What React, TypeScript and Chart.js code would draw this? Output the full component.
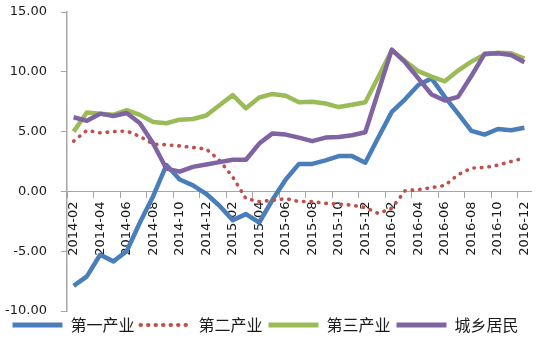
import React, { useEffect, useRef } from 'react';
import { Chart, registerables } from 'chart.js';

Chart.register(...registerables);

const months = [
  '2014-02', '2014-03', '2014-04', '2014-05', '2014-06', '2014-07', '2014-08', '2014-09', '2014-10', '2014-11', '2014-12',
  '2015-01', '2015-02', '2015-03', '2015-04', '2015-05', '2015-06', '2015-07', '2015-08', '2015-09', '2015-10', '2015-11', '2015-12',
  '2016-01', '2016-02', '2016-03', '2016-04', '2016-05', '2016-06', '2016-07', '2016-08', '2016-09', '2016-10', '2016-11', '2016-12',
];

const primaryIndustry = [
  -7.9, -7.1, -5.3, -5.85, -5.0, -2.6, -0.4, 2.2, 1.0, 0.5, -0.2,
  -1.2, -2.4, -1.9, -2.6, -0.7, 1.0, 2.3, 2.3, 2.6, 2.95, 2.95, 2.4,
  4.55, 6.65, 7.7, 8.9, 9.45, 7.9, 6.5, 5.06, 4.75, 5.22, 5.12, 5.32,
];

const secondaryIndustry = [
  4.2, 5.1, 4.9, 5.0, 5.05, 4.6, 3.95, 3.9, 3.8, 3.67, 3.55,
  2.6, 1.2, -0.6, -0.85, -0.75, -0.6, -0.85, -0.85, -1.0, -1.07, -1.15, -1.35,
  -1.85, -1.4, 0.05, 0.15, 0.32, 0.5, 1.4, 1.95, 2.0, 2.2, 2.5, 2.8,
];

const tertiaryIndustry = [
  5.0, 6.6, 6.5, 6.4, 6.8, 6.4, 5.8, 5.7, 6.0, 6.05, 6.35,
  7.2, 8.05, 6.95, 7.85, 8.15, 8.0, 7.45, 7.5, 7.35, 7.05, 7.25, 7.45,
  9.6, 11.8, 10.9, 10.05, 9.6, 9.2, 10.1, 10.85, 11.45, 11.6, 11.55, 11.1,
];

const residents = [
  6.2, 5.9, 6.5, 6.3, 6.55, 5.7, 4.0, 1.9, 1.65, 2.05, 2.25,
  2.45, 2.65, 2.65, 4.0, 4.85, 4.75, 4.5, 4.2, 4.5, 4.55, 4.7, 4.95,
  8.4, 11.85, 10.8, 9.45, 8.1, 7.6, 7.9, 9.65, 11.5, 11.55, 11.4, 10.8,
];

const seriesNames = ['第一产业', '第二产业', '第三产业', '城乡居民'];
const seriesColors = ['#4A7EBB', '#C0504D', '#9BBB59', '#8064A2'];
const yMin = -10;
const yMax = 15;
const yStep = 5;

const AXIS_COLOR = '#a6a6a6';
const TEXT_COLOR = '#1a1a1a';

export default function App() {
  const canvasRef = useRef<HTMLCanvasElement | null>(null);

  useEffect(() => {
    document.body.style.margin = '0';
    const canvas = canvasRef.current;
    if (!canvas) return;
    const seriesData = [primaryIndustry, secondaryIndustry, tertiaryIndustry, residents];
    const chart = new Chart(canvas, {
      type: 'line',
      data: {
        labels: months,
        datasets: seriesData.map((d, i) => ({
          label: seriesNames[i],
          data: d,
          borderColor: seriesColors[i],
          backgroundColor: seriesColors[i],
          borderWidth: i === 1 ? 3.6 : 4.5,
          borderDash: i === 1 ? [0.5, 7] : [],
          borderCapStyle: i === 1 ? 'round' : 'butt',
          borderJoinStyle: 'round',
          pointRadius: 0,
          pointHoverRadius: 0,
          tension: 0,
          fill: false,
          order: 4 - i,
        })),
      },
      options: {
        animation: false,
        responsive: false,
        devicePixelRatio: 1,
        layout: { padding: { left: 0, right: 7, top: 12, bottom: 8 } },
        plugins: {
          tooltip: { enabled: false },
          legend: {
            position: 'bottom',
            labels: {
              usePointStyle: true,
              pointStyleWidth: 50,
              boxHeight: 16,
              padding: 6,
              color: TEXT_COLOR,
              font: { family: '"Noto Sans CJK SC", sans-serif', size: 16 },
              generateLabels: (ch: any) =>
                ch.data.datasets.map((ds: any, i: number) => ({
                  text: ds.label,
                  fillStyle: 'transparent',
                  strokeStyle: ds.borderColor,
                  lineWidth: i === 1 ? 4 : 5,
                  lineDash: i === 1 ? [0.5, 7] : [],
                  lineCap: i === 1 ? 'round' : 'butt',
                  pointStyle: 'line',
                  hidden: false,
                  datasetIndex: i,
                  fontColor: TEXT_COLOR,
                })),
            },
          },
        },
        scales: {
          x: {
            type: 'category',
            offset: true,
            position: { y: 0 } as any,
            grid: {
              offset: true,
              drawOnChartArea: false,
              drawTicks: true,
              tickLength: 6,
              color: (ctx: any) => (ctx.index % 2 === 0 ? AXIS_COLOR : 'rgba(0,0,0,0)'),
            },
            border: { color: AXIS_COLOR, width: 1 },
            ticks: {
              autoSkip: false,
              maxRotation: 90,
              minRotation: 90,
              padding: 4,
              color: TEXT_COLOR,
              font: { family: '"DejaVu Sans", sans-serif', size: 13 },
              callback: (_v: any, i: number) => (i % 2 === 0 ? months[i] : ''),
            },
            afterFit: (scale: any) => {
              scale.paddingLeft = 0;
              scale.paddingRight = 0;
            },
          },
          y: {
            min: yMin,
            max: yMax,
            grid: {
              drawOnChartArea: false,
              drawTicks: true,
              tickLength: 6,
              color: AXIS_COLOR,
            },
            border: { color: AXIS_COLOR, width: 1.5 },
            ticks: {
              stepSize: yStep,
              padding: 14,
              color: TEXT_COLOR,
              font: { family: '"DejaVu Sans", sans-serif', size: 13 },
              callback: (v: any) => Number(v).toFixed(2),
            },
            afterFit: (scale: any) => {
              scale.width = 67;
              scale.paddingTop = 0;
              scale.paddingBottom = 0;
            },
          },
        },
      },
    } as any);
    return () => chart.destroy();
  }, []);

  return (
    <div style={{ width: 538, height: 351, position: 'relative', background: '#fff' }}>
      <canvas ref={canvasRef} width={538} height={351} />
    </div>
  );
}
